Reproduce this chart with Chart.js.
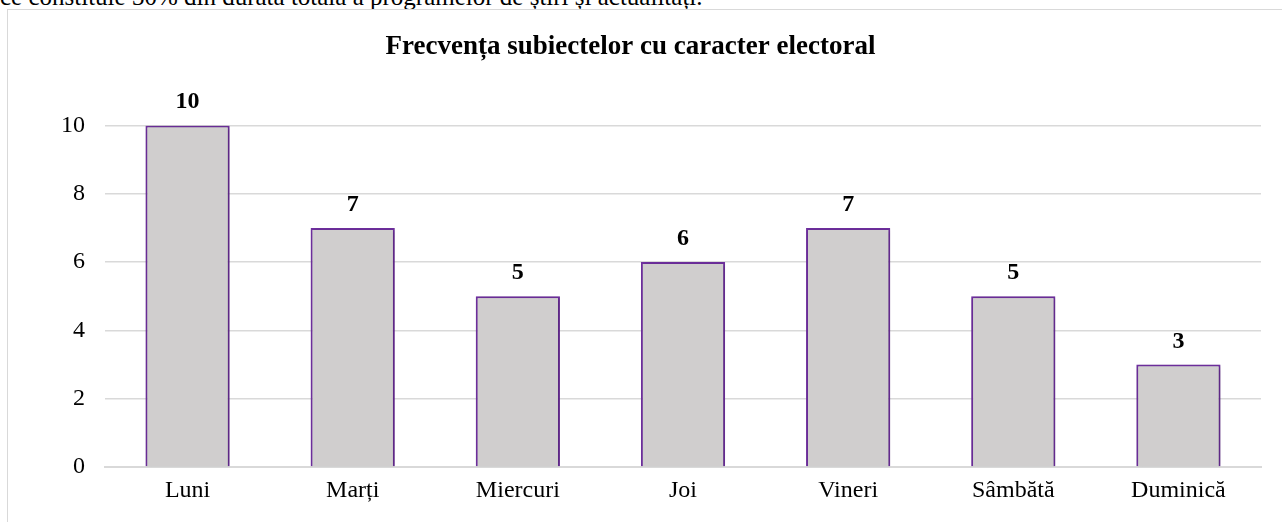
<!DOCTYPE html>
<html>
<head>
<meta charset="utf-8">
<script src="https://cdn.jsdelivr.net/npm/chart.js@4"></script>
<style>
  html, body { margin: 0; padding: 0; background: #fff; overflow: hidden; }
  body { width: 1282px; height: 522px; position: relative; font-family: 'Liberation Serif', 'Times New Roman', serif; }
  .topline { position: absolute; left: 0; top: -16px; font-size: 25px; line-height: 25px; color: #000; white-space: nowrap; }
  .frame { position: absolute; left: 7px; top: 9px; width: 1290px; height: 530px; border-left: 1px solid #d9d9d9; border-top: 1px solid #d9d9d9; box-sizing: border-box; background: #fff; }
  #chartWrap { position: absolute; left: 0; top: 0; width: 1282px; height: 522px; }
</style>
</head>
<body>
<div class="topline">ce constituie 30% din durata totală a programelor de știri și actualități.</div>
<div class="frame"></div>
<div id="chartWrap"><canvas id="c" width="1282" height="522"></canvas></div>
<script>
const TITLE = 'Frecvența subiectelor cu caracter electoral';
const days = ['Luni', 'Marți', 'Miercuri', 'Joi', 'Vineri', 'Sâmbătă', 'Duminică'];
const counts = [10, 7, 5, 6, 7, 5, 3];
const yTicks = [0, 2, 4, 6, 8, 10];

const FONT = "'Liberation Serif', 'Times New Roman', serif";

// ---- value labels above bars ----
const valueLabels = {
  id: 'valueLabels',
  afterDatasetsDraw(chart) {
    const ctx = chart.ctx;
    const meta = chart.getDatasetMeta(0);
    ctx.save();
    ctx.font = 'bold 24px ' + FONT;
    ctx.fillStyle = '#000';
    ctx.textAlign = 'center';
    ctx.textBaseline = 'alphabetic';
    meta.data.forEach((bar, i) => {
      ctx.fillText(String(counts[i]), bar.x, bar.y - 17);
    });
    ctx.restore();
  }
};

// soft shadow behind the bars
const barShadow = {
  id: 'barShadow',
  beforeDatasetsDraw(chart) {
    const ctx = chart.ctx;
    ctx.save();
    ctx.shadowColor = 'rgba(0,0,0,0.28)';
    ctx.shadowBlur = 4;
    ctx.shadowOffsetX = 1;
    ctx.shadowOffsetY = 1;
  },
  afterDatasetsDraw(chart) {
    chart.ctx.restore();
  }
};

new Chart(document.getElementById('c').getContext('2d'), {
  type: 'bar',
  data: {
    labels: days,
    datasets: [{
      data: counts,
      backgroundColor: '#d0cece',
      borderColor: '#7030a0',
      borderWidth: 2,
      categoryPercentage: 1,
      barPercentage: 0.51,
    }]
  },
  options: {
    responsive: false,
    animation: false,
    layout: { padding: { top: 0, right: 21, bottom: 0, left: 0 } },
    plugins: {
      legend: { display: false },
      tooltip: { enabled: false },
      title: {
        display: true,
        text: TITLE,
        color: '#000',
        font: { family: FONT, size: 27, weight: 'bold' },
        padding: { top: 31, bottom: 62 }
      }
    },
    scales: {
      x: {
        grid: { display: false, drawTicks: false },
        border: { display: true, color: '#d9d9d9', width: 2 },
        ticks: { color: '#000', font: { family: FONT, size: 24 }, padding: 9, maxRotation: 0 },
        afterFit: s => { s.height = 55; }
      },
      y: {
        min: 0,
        max: 10,
        afterBuildTicks: s => { s.ticks = yTicks.map(v => ({ value: v })); },
        grid: { color: '#d9d9d9', lineWidth: 1.5, drawTicks: false },
        border: { display: false },
        ticks: { color: '#000', font: { family: FONT, size: 24 }, padding: 20 },
        afterFit: s => { s.width = 105; }
      }
    }
  },
  plugins: [barShadow, valueLabels]
});
</script>
</body>
</html>
